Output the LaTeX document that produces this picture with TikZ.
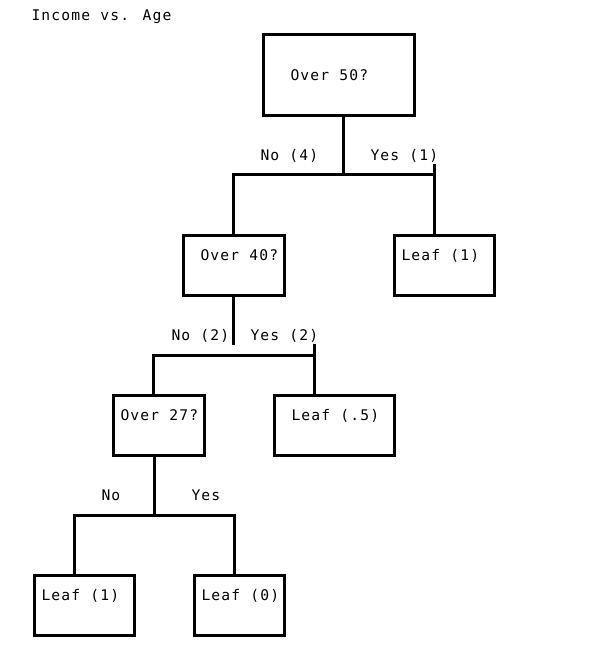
\documentclass[tikz,border=0pt]{standalone}
\usepackage{fontspec}
\newfontfamily\treefont[LetterSpace=8]{DejaVu Sans Mono}
\usetikzlibrary{positioning}

\begin{document}
\begin{tikzpicture}
		[x=0.75pt,y=-0.75pt,line width=2.25pt,
		box/.style={draw,rectangle,inner sep=0pt,minimum height=45pt},
		txt/.style={anchor=base west,inner sep=0pt,font=\treefont\fontsize{11pt}{13pt}\selectfont}]
		\useasboundingbox (0,0) rectangle (602,657);
		
		% boxes
		\node[box,minimum width=113.25pt,minimum height=60.75pt] (n50) at (338.5,74.5) {};
		\node[box,minimum width=75.75pt] (n40) at (233.5,265) {};
		\node[box,minimum width=75pt]    (l1)  at (444,265)   {};
		\node[box,minimum width=68.25pt] (n27) at (158.5,425) {};
		\node[box,minimum width=90pt]    (l5)  at (334,425)   {};
		\node[box,minimum width=75pt]    (lL)  at (84,605)    {};
		\node[box,minimum width=67.5pt]  (lR)  at (239,605)   {};
		
		% texts
		\foreach \n/\x/\y/\t in {title/30/20.5/Income vs. Age,
			t50/289/80.5/Over 50?, no4/259/160.5/No (4), yes1/369/160.5/Yes (1),
			t40/199/260/Over 40?, tl1/400/260/Leaf (1),
			no2/170/340.5/No (2), yes2/249/340.5/Yes (2),
			t27/119/420/Over 27?, tl5/290/420/Leaf (.5),
			no0/100/500/No, yes0/190/500/Yes,
			tlL/40/600.5/Leaf (1), tlR/200/600.5/Leaf (0)}
		\node[txt] (\n) at (\x,\y) {\t};
		
		% connectors
		\coordinate (j1) at (343,174);
		\coordinate (k1) at (434,164);
		\coordinate (j2) at (233,345);
		\coordinate (h2) at (153,355);
		\coordinate (k2) at (314,344);
		\coordinate (j3) at (154,515);
		\coordinate (h3) at (74,515);
		\coordinate (k3) at (234,515);
		
		\draw (n50.south -| j1) -- (j1);
		\draw (n40.north -| j2) |- (j1) -| (k1);
		\draw (k1) -- (l1.north -| k1);
		\draw (n40.south -| j2) -- (j2);
		\draw (n27.north -| h2) -- (h2) -| (k2);
		\draw (h2 -| k2) -- (l5.north -| k2);
		\draw (n27.south -| j3) -- (j3);
		\draw (lL.north -| h3) -- (h3) -- (k3) -- (lR.north -| k3);
		\end{tikzpicture}
\end{document}
